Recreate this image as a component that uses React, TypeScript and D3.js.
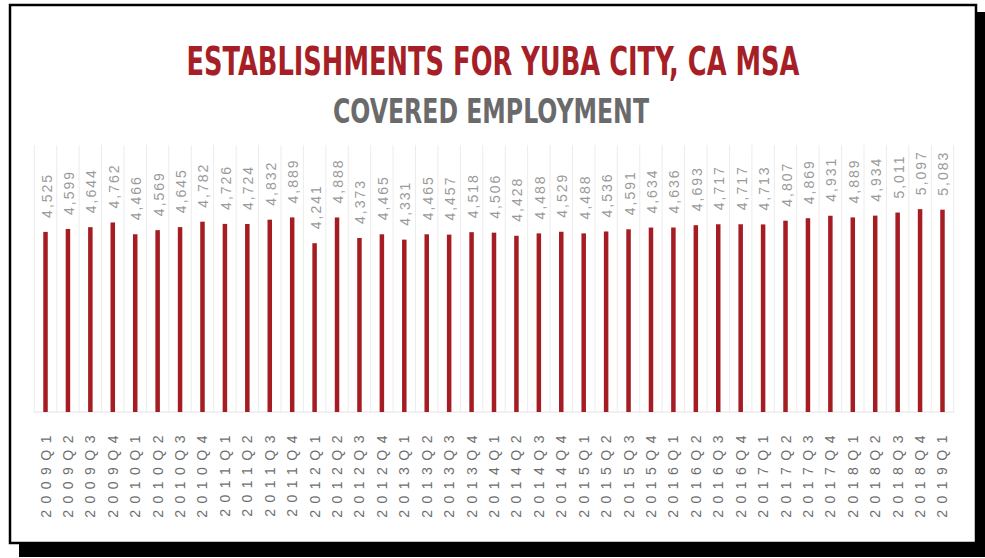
import React from "react";
import * as d3 from "d3";

const categories = [
  "2009Q1","2009Q2","2009Q3","2009Q4",
  "2010Q1","2010Q2","2010Q3","2010Q4",
  "2011Q1","2011Q2","2011Q3","2011Q4",
  "2012Q1","2012Q2","2012Q3","2012Q4",
  "2013Q1","2013Q2","2013Q3","2013Q4",
  "2014Q1","2014Q2","2014Q3","2014Q4",
  "2015Q1","2015Q2","2015Q3","2015Q4",
  "2016Q1","2016Q2","2016Q3","2016Q4",
  "2017Q1","2017Q2","2017Q3","2017Q4",
  "2018Q1","2018Q2","2018Q3","2018Q4",
  "2019Q1",
];

const values = [
  4525, 4599, 4644, 4762,
  4466, 4569, 4645, 4782,
  4726, 4724, 4832, 4889,
  4241, 4888, 4373, 4465,
  4331, 4465, 4457, 4518,
  4506, 4428, 4488, 4529,
  4488, 4536, 4591, 4634,
  4636, 4693, 4717, 4717,
  4713, 4807, 4869, 4931,
  4889, 4934, 5011, 5097,
  5083,
];

const title = "ESTABLISHMENTS FOR YUBA CITY, CA MSA";
const subtitle = "COVERED EMPLOYMENT";

const W = 985;
const H = 558;
const baseY = 412;

export default function App() {
  const x = d3.scaleBand<string>().domain(categories).range([34.3, 953.7]).paddingInner(0).paddingOuter(0);
  const y = d3.scaleLinear().domain([0, 5500]).range([baseY, baseY - 5500 * 0.0398]);
  const fmt = d3.format(",");
  const barW = 4.5;
  const red = "#a51d23";

  return (
    <svg width={W} height={H} style={{ position: "absolute", left: 0, top: 0, background: "#fff" }}>
      {/* frame with shadow */}
      <rect x={19} y={12} width={966} height={545} fill="#000" />
      <rect x={10} y={5} width={966} height={538} fill="#fff" stroke="#000" strokeWidth={2.5} />

      {/* title */}
      <text x={493} y={75} textAnchor="middle" fill="#a61f26"
        style={{ fontFamily: "'Liberation Sans Narrow', 'DejaVu Sans Condensed', 'Liberation Sans', sans-serif", fontWeight: 700, fontSize: 39 }}
        textLength={613} lengthAdjust="spacingAndGlyphs">{title}</text>
      <text x={491} y={123} textAnchor="middle" fill="#6a6a6a"
        style={{ fontFamily: "'Liberation Sans Narrow', 'DejaVu Sans Condensed', 'Liberation Sans', sans-serif", fontWeight: 700, fontSize: 34 }}
        textLength={316} lengthAdjust="spacingAndGlyphs">{subtitle}</text>

      {/* faint category separators */}
      {categories.map((c, i) => {
        const xx = (x(c) as number);
        return <line key={"g" + i} x1={xx} x2={xx} y1={145} y2={baseY} stroke="#ececec" strokeWidth={1} />;
      })}
      <line x1={x(categories[categories.length - 1])! + x.bandwidth()} x2={x(categories[categories.length - 1])! + x.bandwidth()} y1={145} y2={baseY} stroke="#ececec" />
      <line x1={34} x2={954} y1={baseY} y2={baseY} stroke="#e2e2e2" strokeWidth={1} />

      {/* bars */}
      {categories.map((c, i) => {
        const cx = (x(c) as number) + x.bandwidth() / 2;
        return (
          <rect key={"b" + i} x={cx - barW / 2} y={y(values[i])} width={barW} height={baseY - y(values[i])} fill={red} />
        );
      })}

      {/* value labels */}
      {categories.map((c, i) => {
        const cx = (x(c) as number) + x.bandwidth() / 2 + 1;
        const ty = y(values[i]) - 14;
        return (
          <text key={"v" + i} transform={`translate(${cx},${ty}) rotate(-90)`} dominantBaseline="central"
            fill="#9a9a9a" style={{ fontFamily: "'Liberation Sans', Arial, sans-serif", fontSize: 14, letterSpacing: 2 }}>
            {fmt(values[i])}
          </text>
        );
      })}

      {/* category labels */}
      {categories.map((c, i) => {
        const cx = (x(c) as number) + x.bandwidth() / 2;
        return (
          <text key={"c" + i} transform={`translate(${cx},${429}) rotate(-90)`} textAnchor="end" dominantBaseline="central"
            fill="#6e6e6e" style={{ fontFamily: "'Liberation Sans', Arial, sans-serif", fontSize: 14, letterSpacing: 6.5 }}>
            {c}
          </text>
        );
      })}
    </svg>
  );
}
